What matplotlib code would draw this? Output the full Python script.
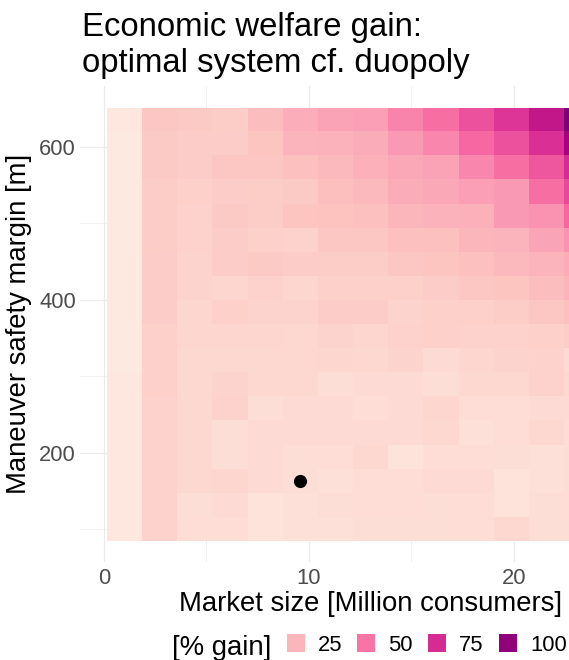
import matplotlib
matplotlib.use("Agg")
import matplotlib.pyplot as plt
import numpy as np
from matplotlib.colors import LinearSegmentedColormap, Normalize
from matplotlib.patches import Rectangle

plt.rcParams['font.family'] = ['Liberation Sans', 'DejaVu Sans']

# market size [million consumers] (tile centres)
market_size = [1.0, 2.72, 4.43, 6.15, 7.87, 9.58, 11.3, 13.0, 14.7, 16.45, 18.15, 19.9, 21.6, 23.3]
# maneuver safety margin [m] (tile centres), bottom to top
safety_margin = [101, 132, 164, 195, 227, 258, 290, 321, 353, 384, 416, 447, 479, 510, 542, 573, 605, 636]

# welfare gain [%], rows listed from the top (636 m) down to 101 m
gain_rows = [
    [2, 17, 16, 15, 22, 29, 34, 36, 45, 52, 62, 72, 82, 112],
    [1, 16, 14, 14, 18, 26, 27, 30, 38, 44, 54, 62, 73, 92],
    [1, 16, 14, 17, 17, 20, 24, 28, 32, 35, 44, 52, 60, 75],
    [1, 15, 13, 14, 15, 16, 21, 24, 30, 32, 36, 38, 52, 65],
    [1, 15, 12, 16, 15, 18, 19, 20, 25, 27, 28, 38, 40, 55],
    [1, 15, 12, 14, 13, 12, 17, 17, 20, 20, 25, 26, 33, 40],
    [1, 14, 11, 14, 16, 14, 15, 15, 17, 18, 20, 24, 26, 30],
    [1, 14, 11, 10, 12, 10, 13, 13, 13, 14, 17, 18, 22, 26],
    [1, 14, 10, 13, 11, 11, 14, 14, 11, 13, 13, 15, 17, 20],
    [1, 13, 10, 10, 10, 9, 11, 10, 12, 13, 12, 12, 13, 15],
    [1, 13, 9, 9, 9, 9, 10, 9, 11, 8, 10, 11, 12, 8],
    [2, 13, 9, 11, 9, 9, 6, 8, 8, 6, 9, 9, 12, 9],
    [2, 12, 9, 12, 6, 8, 8, 7, 8, 10, 7, 7, 8, 8],
    [2, 12, 9, 6, 8, 8, 8, 8, 8, 9, 5, 7, 9, 7],
    [2, 12, 9, 6, 8, 6, 7, 9, 4, 7, 7, 6, 5, 6],
    [2, 12, 9, 10, 8, 6, 5, 7, 7, 8, 8, 4, 5, 6],
    [2, 12, 6, 8, 4, 5, 6, 7, 7, 6, 7, 4, 6, 7],
    [2, 12, 7, 7, 4, 5, 5, 6, 6, 6, 7, 9, 6, 6],
]

# highlighted configuration
point_x = [9.58]
point_y = [164]

legend_breaks = [25, 50, 75, 100]

gain = np.array(gain_rows[::-1], dtype=float)

rdpu = ["#FEEBE2", "#FCC5C0", "#FA9FB5", "#F768A1", "#DD3497", "#AE017E", "#7A0177"]
cmap = LinearSegmentedColormap.from_list("rdpu", rdpu)
norm = Normalize(vmin=0, vmax=108)

W, H = 569, 660
fig = plt.figure(figsize=(W / 100, H / 100), dpi=100)

# panel in pixel units; it runs past the right edge of the figure
left, bottom, top, width = 80, 562, 86, 577.5
ax = fig.add_axes([left / W, 1 - bottom / H, width / W, (bottom - top) / H])
ax.set_xlim(-1.17, 27.0)
ax.set_ylim(57.5, 679.7)

for s in ax.spines.values():
    s.set_visible(False)

ax.set_xticks([0, 10, 20])
ax.set_xticks([5, 15, 25], minor=True)
ax.set_yticks([200, 400, 600])
ax.set_yticks([100, 300, 500], minor=True)
ax.grid(which='major', color='#EBEBEB', linewidth=0.9)
ax.grid(which='minor', color='#EBEBEB', linewidth=0.5)
ax.set_axisbelow(True)
ax.tick_params(which='both', length=0)
ax.tick_params(axis='x', labelsize=15.8, labelcolor='#4D4D4D', pad=4)
ax.tick_params(axis='y', labelsize=15.8, labelcolor='#4D4D4D', pad=3)

ax.pcolormesh(market_size, safety_margin, gain, cmap=cmap, norm=norm,
              shading='nearest', edgecolors='face', linewidth=0.0, zorder=2)
ax.scatter(point_x, point_y, s=90, color='black', zorder=3, linewidths=0)

def px(x, y):
    return x / W, 1 - y / H

fig.text(*px(82, 36), "Economic welfare gain:", fontsize=23.7, va='baseline', ha='left')
fig.text(*px(82, 72), "optimal system cf. duopoly", fontsize=23.7, va='baseline', ha='left')

fig.text(*px(371, 611), "Market size [Million consumers]", fontsize=19.8, va='baseline', ha='center')
fig.text(*px(19, 324), "Maneuver safety margin [m]", fontsize=19.8, rotation=90,
         va='center', ha='center')

# legend along the bottom
fig.text(*px(172, 655), "[% gain]", fontsize=19.8, va='baseline', ha='left')
key_x = [287, 357, 428, 499]
for kx, b in zip(key_x, legend_breaks):
    x0, y0 = px(kx, 652)
    fig.patches.append(Rectangle((x0, y0), 18 / W, 18 / H, transform=fig.transFigure,
                                 facecolor=cmap(norm(b)), edgecolor='none'))
    fig.text(*px(kx + 31, 651), str(b), fontsize=15.8, va='baseline', ha='left')

fig.savefig("out.png", dpi=100)
